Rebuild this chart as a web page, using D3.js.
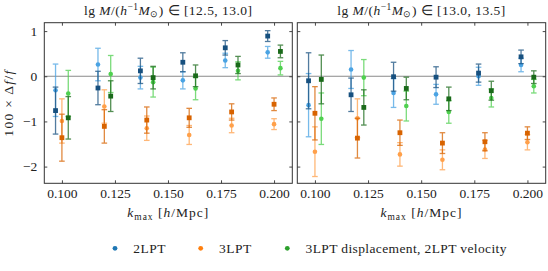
<!DOCTYPE html>
<html><head><meta charset="utf-8">
<script src="https://cdn.jsdelivr.net/npm/d3@7"></script>
<style>
body{margin:0;background:#fff}
svg{display:block}
text{font-family:"Liberation Serif",serif;fill:#222}
</style>
</head><body>
<svg id="chart" width="548" height="271"></svg>
<script>
// ---------------- data ----------------
const kValues = [0.10, 0.12, 0.14, 0.16, 0.18, 0.20];
const xTickValues = [0.100, 0.125, 0.150, 0.175, 0.200];
const yTickValues = [1, 0, -1, -2];
const panelRanges = [["12.5", "13.0"], ["13.0", "13.5"]];
const seriesNames = ["2LPT", "3LPT", "3LPT displacement, 2LPT velocity"];
const seriesOffsets = [-0.003, 0, 0.003];

// left panel: lg M in [12.5, 13.0]
const left2LPTSquare   = [-0.76, -0.26, 0.12, 0.31, 0.63, 0.89];
const left2LPTSquareErr= [0.52, 0.37, 0.28, 0.21, 0.16, 0.12];
const left2LPTCircle   = [-0.31, 0.26, -0.03, -0.09, 0.35, 0.53];
const left2LPTCircleErr= [0.58, 0.36, 0.25, 0.19, 0.16, 0.13];
const left3LPTSquare   = [-1.36, -1.11, -0.97, -0.92, -0.79, -0.62];
const left3LPTSquareErr= [0.52, 0.37, 0.29, 0.21, 0.18, 0.14];
const left3LPTCircle   = [-0.99, -0.67, -1.15, -1.30, -1.09, -1.06];
const left3LPTCircleErr= [0.49, 0.37, 0.27, 0.21, 0.16, 0.12];
const leftMixSquare    = [-0.92, -0.44, -0.03, 0.01, 0.25, 0.55];
const leftMixSquareErr = [0.47, 0.34, 0.25, 0.24, 0.19, 0.14];
const leftMixCircle    = [-0.38, 0.05, -0.13, -0.27, 0.12, 0.18];
const leftMixCircleErr = [0.51, 0.41, 0.33, 0.25, 0.20, 0.15];

// right panel: lg M in [13.0, 13.5]
const right2LPTSquare   = [-0.10, -0.41, -0.01, -0.02, 0.07, 0.43];
const right2LPTSquareErr= [0.62, 0.37, 0.32, 0.23, 0.20, 0.15];
const right2LPTCircle   = [-0.64, 0.15, -0.37, -0.40, 0.00, 0.25];
const right2LPTCircleErr= [0.70, 0.42, 0.32, 0.22, 0.20, 0.15];
const right3LPTSquare   = [-0.82, -1.37, -1.25, -1.48, -1.45, -1.26];
const right3LPTSquareErr= [0.59, 0.44, 0.28, 0.23, 0.20, 0.14];
const right3LPTCircle   = [-1.67, -0.93, -1.73, -1.85, -1.62, -1.46];
const right3LPTCircleErr= [0.55, 0.43, 0.26, 0.22, 0.20, 0.17];
const rightMixSquare    = [-0.07, -0.69, -0.27, -0.50, -0.32, -0.02];
const rightMixSquareErr = [0.54, 0.39, 0.25, 0.26, 0.21, 0.14];
const rightMixCircle    = [-0.94, -0.03, -0.66, -0.79, -0.48, -0.22];
const rightMixCircleErr = [0.57, 0.40, 0.33, 0.25, 0.20, 0.15];

// ---------------- styles ----------------
const legendColors = ["#1f77b4", "#ff7f0e", "#2ca02c"];
const squareColors = ["#17507f", "#d86300", "#1a6a1a"];
const circleColors = ["#4aa3e3", "#ffa04a", "#4fd04f"];

const panels = [
  { x0: 44.3, x1: 292.3, range: panelRanges[0], showY: true,
    squares: [[left2LPTSquare,left2LPTSquareErr],[left3LPTSquare,left3LPTSquareErr],[leftMixSquare,leftMixSquareErr]],
    circles: [[left2LPTCircle,left2LPTCircleErr],[left3LPTCircle,left3LPTCircleErr],[leftMixCircle,leftMixCircleErr]] },
  { x0: 297.3, x1: 545.7, range: panelRanges[1], showY: false,
    squares: [[right2LPTSquare,right2LPTSquareErr],[right3LPTSquare,right3LPTSquareErr],[rightMixSquare,rightMixSquareErr]],
    circles: [[right2LPTCircle,right2LPTCircleErr],[right3LPTCircle,right3LPTCircleErr],[rightMixCircle,rightMixCircleErr]] }
];
const plotTop = 22.7, plotBottom = 183.3;
const fs = 13.5;

// widen a text (Computer-Modern-like spacing) to a target width
function fitWidth(sel, target) {
  const node = sel.node();
  const w = node.getComputedTextLength();
  const n = node.textContent.length;
  if (n > 1 && w < target) sel.attr("letter-spacing", ((target - w) / (n - 1)).toFixed(3));
}

const svg = d3.select("#chart");
const y = d3.scaleLinear().domain([-2.37, 1.186]).range([plotBottom, plotTop]);

panels.forEach(p => {
  const x = d3.scaleLinear().domain([0.0917, 0.2086]).range([p.x0, p.x1]);
  const g = svg.append("g");

  // zero line
  g.append("line").attr("x1", p.x0).attr("x2", p.x1)
    .attr("y1", y(0)).attr("y2", y(0))
    .attr("stroke", "#8a8a8a").attr("stroke-width", 1.2);

  // axes (inward ticks)
  const ax = (sel) => { sel.select(".domain").remove(); sel.selectAll("line").attr("stroke","#333").attr("stroke-width",0.9); };
  const bx = g.append("g").attr("transform", `translate(0,${plotBottom})`)
    .call(d3.axisBottom(x).tickValues(xTickValues).tickSize(-3).tickFormat(d3.format(".3f")));
  ax(bx);
  bx.selectAll("text").attr("font-size", fs).attr("font-family", "Liberation Serif").attr("fill","#222")
    .attr("y", 14.8).attr("dy", null);
  const tx = g.append("g").attr("transform", `translate(0,${plotTop})`)
    .call(d3.axisTop(x).tickValues(xTickValues).tickSize(-3).tickFormat(""));
  ax(tx);
  const ly = g.append("g").attr("transform", `translate(${p.x0},0)`)
    .call(d3.axisLeft(y).tickValues(yTickValues).tickSize(-3).tickPadding(7)
      .tickFormat(p.showY ? (d => d < 0 ? "\u2212" + Math.abs(d) : d) : ""));
  ax(ly);
  ly.selectAll("text").attr("font-size", fs).attr("font-family", "Liberation Serif").attr("fill","#222");
  const ry = g.append("g").attr("transform", `translate(${p.x1},0)`)
    .call(d3.axisRight(y).tickValues(yTickValues).tickSize(-3).tickFormat(""));
  ax(ry);

  // error bars + markers
  const cap = 2.8;
  const drawSeries = (arr, colors, shape) => {
    arr.forEach(([vals, errs], si) => {
      const col = colors[si];
      const sg = g.append("g");
      vals.forEach((v, i) => {
        const cx = x(kValues[i] + seriesOffsets[si]);
        const e = errs[i];
        const eg = sg.append("g").attr("stroke", col).attr("stroke-width", 1.3).attr("opacity", 0.75);
        eg.append("line").attr("x1", cx).attr("x2", cx).attr("y1", y(v - e)).attr("y2", y(v + e));
        eg.append("line").attr("x1", cx - cap).attr("x2", cx + cap).attr("y1", y(v - e)).attr("y2", y(v - e));
        eg.append("line").attr("x1", cx - cap).attr("x2", cx + cap).attr("y1", y(v + e)).attr("y2", y(v + e));
        if (shape === "square") {
          sg.append("rect").attr("x", cx - 2.4).attr("y", y(v) - 2.4).attr("width", 4.8).attr("height", 4.8).attr("fill", col);
        } else {
          sg.append("circle").attr("cx", cx).attr("cy", y(v)).attr("r", 2.3).attr("fill", col);
        }
      });
    });
  };
  drawSeries(p.circles, circleColors, "circle");
  drawSeries(p.squares, squareColors, "square");

  // frame
  g.append("rect").attr("x", p.x0).attr("y", plotTop).attr("width", p.x1 - p.x0).attr("height", plotBottom - plotTop)
    .attr("fill", "none").attr("stroke", "#333").attr("stroke-width", 1);

  // title
  const t = g.append("text").attr("x", (p.x0 + p.x1) / 2).attr("y", 14.5).attr("text-anchor", "middle").attr("font-size", fs);
  t.append("tspan").text("lg ");
  t.append("tspan").attr("font-style", "italic").text("M");
  t.append("tspan").text("/(");
  t.append("tspan").attr("font-style", "italic").text("h");
  t.append("tspan").attr("font-size", fs * 0.7).attr("dy", -5).text("\u22121");
  t.append("tspan").attr("font-style", "italic").attr("dy", 5).text("M");
  t.append("tspan").attr("font-size", fs * 0.7).attr("dy", 2.5).text("\u2299");
  t.append("tspan").attr("dy", -2.5).text(") \u2208 [" + p.range[0] + ", " + p.range[1] + "]");
  fitWidth(t, 168);

  // x label
  const xl = g.append("text").attr("x", (p.x0 + p.x1) / 2).attr("y", 217.3).attr("text-anchor", "middle").attr("font-size", fs);
  xl.append("tspan").attr("font-style", "italic").text("k");
  xl.append("tspan").attr("font-size", fs * 0.7).attr("dy", 2.5).text("max");
  xl.append("tspan").attr("dy", -2.5).text(" [");
  xl.append("tspan").attr("font-style", "italic").text("h");
  xl.append("tspan").text("/Mpc]");
  fitWidth(xl, 81);
});

// y label
const yl = svg.append("text").attr("transform", `translate(13,${(plotTop + plotBottom) / 2}) rotate(-90)`)
  .attr("text-anchor", "middle").attr("font-size", fs);
yl.append("tspan").text("100 \u00d7 \u0394");
yl.append("tspan").attr("font-style", "italic").text("f");
yl.append("tspan").text("/");
yl.append("tspan").attr("font-style", "italic").text("f");
fitWidth(yl, 66);

// legend
const legendDotX = [115, 200.7, 287.3];
const legendTextW = [32.4, 32.3, 201];
seriesNames.forEach((name, i) => {
  svg.append("circle").attr("cx", legendDotX[i]).attr("cy", 248.3).attr("r", 2.4).attr("fill", legendColors[i]);
  const lt = svg.append("text").attr("x", legendDotX[i] + 18.2).attr("y", 253).attr("font-size", fs).text(name);
  fitWidth(lt, legendTextW[i]);
});
</script>
</body></html>
